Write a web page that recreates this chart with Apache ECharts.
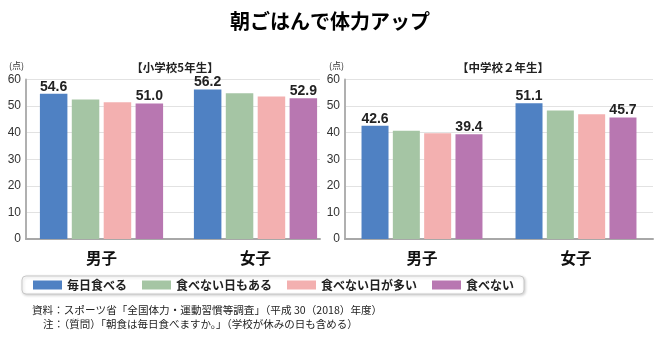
<!DOCTYPE html>
<html>
<head>
<meta charset="utf-8">
<script src="https://cdn.jsdelivr.net/npm/echarts@6/dist/echarts.min.js"></script>
<style>
  html, body { margin: 0; padding: 0; background: #fff; }
  #chart { width: 660px; height: 339px; }
</style>
</head>
<body>
<div id="chart"></div>
<script>
// 朝食の頻度別 体力合計点（点）
const categories = ['男子', '女子'];
const seriesNames = ['毎日食べる', '食べない日もある', '食べない日が多い', '食べない'];

// 小学校5年生
const elemEveryDay   = [54.6, 56.2];
const elemSometimes  = [52.5, 54.8];
const elemOften      = [51.4, 53.6];
const elemNever      = [51.0, 52.9];

// 中学校2年生
const juniorEveryDay  = [42.6, 51.1];
const juniorSometimes = [40.7, 48.3];
const juniorOften     = [39.8, 46.9];
const juniorNever     = [39.4, 45.7];

const yMin = 0, yMax = 60, yStep = 10;

const colors = ['#4f81c3', '#a5c5a4', '#f3b0b0', '#b877b1'];
const jp = '"Noto Sans CJK JP", sans-serif';
const num = '"Liberation Sans Narrow", "Liberation Sans", Arial, sans-serif';

const chart = echarts.init(document.getElementById('chart'), null, { renderer: 'canvas' });

const plotTop = 79.5, plotHeight = 159.5;

function valueAxis(gridIndex, showAll) {
  return {
    type: 'value', gridIndex, min: yMin, max: yMax, interval: yStep,
    show: true,
    axisLine: { show: showAll, lineStyle: { color: '#b0b0b0', width: 2 } },
    axisTick: { show: false },
    axisLabel: { show: showAll, color: '#333', fontFamily: num, fontSize: 12, margin: 5 },
    splitLine: { show: showAll, lineStyle: { color: '#e2e2e2', width: 1 } }
  };
}

function catAxis(gridIndex, showLine, showLabel) {
  return {
    type: 'category', gridIndex, data: categories,
    axisLine: { show: showLine, lineStyle: { color: '#a8a8a8', width: 2 } },
    axisTick: { show: false },
    axisLabel: {
      show: showLabel, color: '#111', fontFamily: jp, fontWeight: 'bold',
      fontSize: 15.5, margin: 11
    }
  };
}

function barSeries(name, idx, xi, yi, data, width, showLabel) {
  return {
    name, type: 'bar', xAxisIndex: xi, yAxisIndex: yi, data,
    barWidth: width, barGap: '16%',
    itemStyle: { color: colors[idx] },
    label: {
      show: showLabel, position: 'top', distance: 0,
      fontFamily: num, fontWeight: 'bold', fontSize: 14, color: '#222',
      formatter: p => p.value.toFixed(1)
    },
    emphasis: { disabled: true },
    animation: false
  };
}

const elem = [elemEveryDay, elemSometimes, elemOften, elemNever];
const junior = [juniorEveryDay, juniorSometimes, juniorOften, juniorNever];

const series = [];
elem.forEach((d, i) => series.push(barSeries(seriesNames[i], i, 1, 1, d, 27.5, i === 0 || i === 3)));
junior.forEach((d, i) => series.push(barSeries(seriesNames[i], i, 2, 2, d, 27, i === 0 || i === 3)));

chart.setOption({
  animation: false,
  backgroundColor: '#fff',
  title: [
    {
      text: '朝ごはんで体力アップ', left: 'center', top: 6,
      textStyle: { fontFamily: jp, fontWeight: 'bold', fontSize: 20, color: '#000' }
    },
    {
      text: '【小学校5年生】', left: 170, top: 57, textAlign: 'center',
      textStyle: { fontFamily: jp, fontWeight: 'bold', fontSize: 11.5, color: '#222' }
    },
    {
      text: '【中学校２年生】', left: 498, top: 57, textAlign: 'center',
      textStyle: { fontFamily: jp, fontWeight: 'bold', fontSize: 11.5, color: '#222' }
    }
  ],
  grid: [
    // left panel frame: gridlines, y axis, baseline
    { left: 26, top: plotTop, width: 294, height: plotHeight },
    // left panel bars
    { left: 24.5, top: plotTop, width: 308, height: plotHeight },
    // right panel
    { left: 345, top: plotTop, width: 308, height: plotHeight }
  ],
  xAxis: [
    catAxis(0, true, false),
    catAxis(1, false, true),
    catAxis(2, true, true)
  ],
  yAxis: [
    valueAxis(0, true),
    Object.assign(valueAxis(1, false), { show: false }),
    valueAxis(2, true)
  ],
  legend: {
    data: seriesNames,
    left: 22, top: 276,
    padding: [3, 10, 3, 11],
    itemWidth: 29, itemHeight: 9, itemGap: 15,
    icon: 'rect',
    selectedMode: false,
    backgroundColor: '#fff',
    borderColor: '#c8c8c8', borderWidth: 1, borderRadius: 4,
    shadowColor: 'rgba(0,0,0,0.18)', shadowBlur: 3, shadowOffsetX: 1, shadowOffsetY: 1,
    textStyle: { fontFamily: jp, fontWeight: 'bold', fontSize: 12, color: '#222' }
  },
  graphic: [
    {
      type: 'text', left: 9, top: 61,
      style: { text: '(点)', font: '9px ' + jp, fill: '#333' }
    },
    {
      type: 'text', left: 329, top: 61,
      style: { text: '(点)', font: '9px ' + jp, fill: '#333' }
    },
    {
      type: 'text', left: 32, top: 305,
      style: { text: '資料：スポーツ省「全国体力・運動習慣等調査」（平成 30（2018）年度）', font: '10.6px ' + jp, fill: '#222' }
    },
    {
      type: 'text', left: 43, top: 319,
      style: { text: '注：（質問）「朝食は毎日食べますか。」（学校が休みの日も含める）', font: '10.5px ' + jp, fill: '#222' }
    }
  ],
  series
});
</script>
</body>
</html>
